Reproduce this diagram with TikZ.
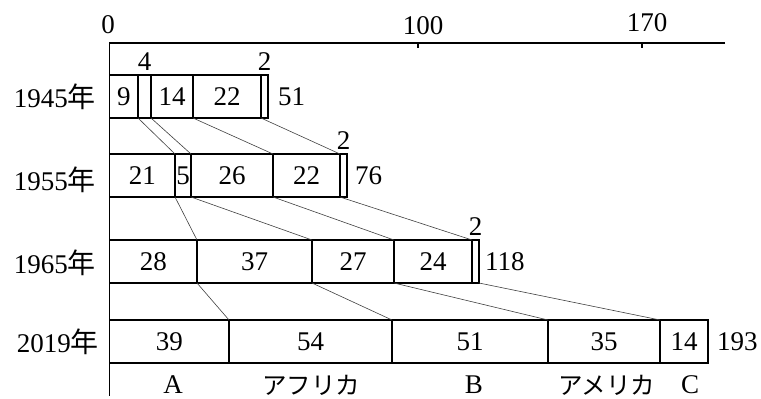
\documentclass[tikz,border=0pt]{standalone}
\usepackage{fontspec}
\setmainfont{Liberation Serif}
\newfontfamily\jpfont{Noto Sans CJK JP}
\usetikzlibrary{positioning}
\newcommand\nen{{\jpfont\fontsize{28}{28}\selectfont 年}}
\tikzset{
	seg/.style={draw, line width=1.6pt, minimum height=43pt, inner sep=0pt, outer sep=0pt, anchor=west, font=\fontsize{27}{27}\selectfont},
	lab/.style={inner sep=0pt, font=\fontsize{27}{27}\selectfont},
	kana/.style={inner sep=0pt, font=\jpfont\fontsize{24.5}{24.5}\selectfont},
	link/.style={line width=0.6pt, black!75},
	axis/.style={line width=1.8pt},
}

\begin{document}
\begin{tikzpicture}[x=1pt, y=-1pt]
		%%%%% START %%%%%
		\useasboundingbox (0, 0) rectangle (761, 399);
		
		\coordinate (o) at (109.5, 43);
		\coordinate (xend) at (725, 43);
		\coordinate (yend) at (109.5, 396);
		\draw[axis] (xend) -- (o) -- (yend);
		\draw[axis] (418, 43) -- (418, 47.5);
		\draw[axis] (642, 43) -- (642, 47.5);
		\node[lab] (t0) at (108, 25) {0};
		\node[lab] (t100) at (423, 26) {100};
		\node[lab] (t170) at (647, 22.5) {170};
		
		% 1945
		\node[lab, anchor=east] (y45) at (96, 97) {1945\nen};
		\node[seg, minimum width=28.5pt] (s45a) at (109.5, 96.5) {9};
		\node[seg, minimum width=13pt, right=0pt of s45a] (s45b) {};
		\node[seg, minimum width=42pt, right=0pt of s45b] (s45c) {14};
		\node[seg, minimum width=68pt, right=0pt of s45c] (s45d) {22};
		\node[seg, minimum width=7pt, right=0pt of s45d] (s45e) {};
		\node[lab, above=4pt of s45b] (n45b) {4};
		\node[lab, above=4pt of s45e] (n45e) {2};
		\node[lab, right=10pt of s45e] (tot45) {51};
		
		% 1955
		\node[lab, anchor=east] (y55) at (96, 180) {1955\nen};
		\node[seg, minimum width=65.5pt] (s55a) at (109.5, 175.5) {21};
		\node[seg, minimum width=16pt, right=0pt of s55a] (s55b) {5};
		\node[seg, minimum width=82pt, right=0pt of s55b] (s55c) {26};
		\node[seg, minimum width=67pt, right=0pt of s55c] (s55d) {22};
		\node[seg, minimum width=7pt, right=0pt of s55d] (s55e) {};
		\node[lab, above=4pt of s55e] (n55e) {2};
		\node[lab, right=8pt of s55e] (tot55) {76};
		
		% 1965
		\node[lab, anchor=east] (y65) at (96, 263) {1965\nen};
		\node[seg, minimum width=87.5pt] (s65a) at (109.5, 261.5) {28};
		\node[seg, minimum width=115pt, right=0pt of s65a] (s65b) {37};
		\node[seg, minimum width=82pt, right=0pt of s65b] (s65c) {27};
		\node[seg, minimum width=78pt, right=0pt of s65c] (s65d) {24};
		\node[seg, minimum width=7pt, right=0pt of s65d] (s65e) {};
		\node[lab, above=4pt of s65e] (n65e) {2};
		\node[lab, right=6pt of s65e] (tot65) {118};
		
		% 2019
		\node[lab, anchor=east] (y19) at (99, 342) {2019\nen};
		\node[seg, minimum width=119.5pt] (s19a) at (109.5, 341.5) {39};
		\node[seg, minimum width=163pt, right=0pt of s19a] (s19b) {54};
		\node[seg, minimum width=156pt, right=0pt of s19b] (s19c) {51};
		\node[seg, minimum width=112pt, right=0pt of s19c] (s19d) {35};
		\node[seg, minimum width=48pt, right=0pt of s19d] (s19e) {14};
		\node[lab, right=9pt of s19e] (tot19) {193};
		
		% links
		\draw[link] (s45a.south east) -- (s55a.north east);
		\draw[link] (s45b.south east) -- (s55b.north east);
		\draw[link] (s45c.south east) -- (s55c.north east);
		\draw[link] (s45d.south east) -- (s55d.north east);
		\draw[link] (s55a.south east) -- (s65a.north east);
		\draw[link] (s55b.south east) -- (s65b.north east);
		\draw[link] (s55c.south east) -- (s65c.north east);
		\draw[link] (s55d.south east) -- (s65d.north east);
		\draw[link] (s65a.south east) -- (s19a.north east);
		\draw[link] (s65b.south east) -- (s19b.north east);
		\draw[link] (s65c.south east) -- (s19c.north east);
		\draw[link] (s65e.south east) -- (s19d.north east);
		
		% regions
		\node[lab] (ra) at (173, 385) {A};
		\node[kana] (rb) at (311, 385) {アフリカ};
		\node[lab] (rc) at (474, 385) {B};
		\node[kana] (rd) at (607, 385) {アメリカ};
		\node[lab] (re) at (690, 385) {C};
		%%%%% END %%%%%
\end{tikzpicture}
\end{document}
